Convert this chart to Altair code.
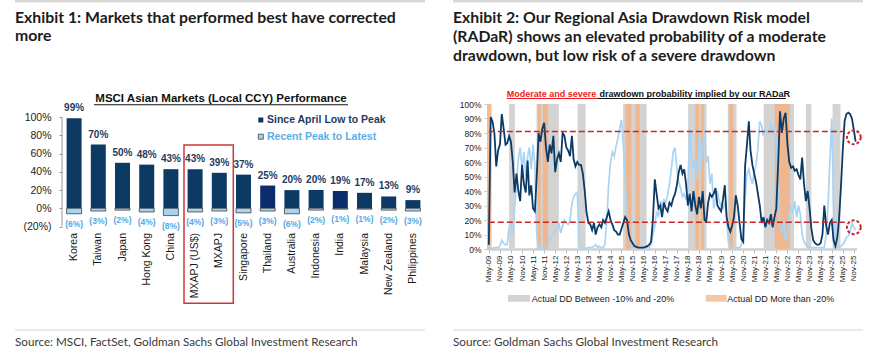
import altair as alt
import pandas as pd

# ============================ Exhibit 1 data ============================
markets = ["Korea", "Taiwan", "Japan", "Hong Kong", "China", "MXAPJ (US$)", "MXAPJ",
           "Singapore", "Thailand", "Australia", "Indonesia", "India", "Malaysia",
           "New Zealand", "Philippines"]
low_to_peak = [99, 70, 50, 48, 43, 43, 39, 37, 25, 20, 20, 19, 17, 13, 9]
peak_to_latest = [-6, -3, -2, -4, -8, -4, -3, -5, -3, -6, -2, -1, -1, -2, -3]
y1_ticks = [-20, 0, 20, 40, 60, 80, 100]
legend1_labels = ["Since April Low to Peak", "Recent Peak to Latest"]
title1 = "Exhibit 1: Markets that performed best have corrected\nmore"
subtitle1 = "MSCI Asian Markets (Local CCY) Performance"
source1 = "Source: MSCI, FactSet, Goldman Sachs Global Investment Research"

# ============================ Exhibit 2 data ============================
first_month = "2009-05-01"
moderate_prob = [
    3, 91, 88, 80, 57, 68, 72, 93, 83, 72,
    73, 78, 74, 60, 39, 52, 40, 33, 58, 45,
    39, 61, 37, 44, 28, 26, 50, 80, 74, 83,
    87, 70, 60, 72, 66, 78, 53, 62, 66, 60,
    80, 78, 70, 68, 64, 78, 62, 57, 60, 58,
    58, 52, 40, 25, 18, 17, 13, 18, 10, 15,
    17, 15, 20, 18, 22, 26, 20, 17, 13, 12,
    10, 10, 14, 18, 22, 20, 10, 6, 4, 2,
    1.5, 1, 1, 1, 1, 1.5, 2, 3, 5, 20,
    48, 38, 28, 30, 22, 32, 28, 26, 32, 30,
    35, 38, 44, 53, 58, 52, 55, 45, 30, 38,
    26, 40, 30, 24, 36, 28, 40, 20, 19, 32,
    38, 36, 38, 42, 30, 28, 26, 34, 44, 22,
    15, 12, 16, 22, 37, 30, 18, 7, 5, 57,
    72, 88, 68, 58, 52, 46, 38, 30, 18, 22,
    15, 20, 18, 24, 15, 22, 28, 60, 95, 80,
    90, 94, 72, 60, 56, 57, 54, 55, 51, 48,
    63, 45, 33, 40, 28, 14, 6, 4, 3, 3,
    4, 10, 30, 16, 10, 18, 20, 6, 2, 8,
    20, 42, 67, 88, 93, 94, 93, 90, 82, 74]
severe_prob = [
    1, 0.5, 0.5, 1, 1, 1, 2, 6, 4, 3,
    3, 15, 19, 10, 28, 45, 62, 70, 55, 67,
    50, 64, 70, 55, 72, 58, 10, 1, 0.5, 0.5,
    1, 2, 4, 6, 9, 11, 12, 14, 18, 11,
    16, 20, 18, 17, 20, 31, 36, 38, 39, 6,
    1, 1, 0.5, 0.5, 1, 1, 1, 2, 3, 1,
    2, 1, 1, 3, 20, 45, 60, 67, 64, 71,
    76, 83, 89, 72, 49, 25, 12, 4, 1, 1,
    1, 1, 1, 1, 1, 1, 1, 1, 3, 10,
    16, 26, 22, 33, 30, 34, 32, 37, 45, 55,
    67, 70, 55, 46, 42, 36, 38, 34, 42, 83,
    65, 55, 62, 48, 79, 55, 72, 82, 60, 64,
    45, 52, 28, 35, 40, 33, 30, 28, 32, 20,
    5, 1, 1, 1, 1, 1, 1, 3, 10, 35,
    52, 55, 49, 45, 53, 58, 70, 88, 85, 78,
    83, 80, 81, 86, 78, 85, 76, 40, 14, 12,
    19, 5, 12, 23, 30, 25, 33, 22, 30, 24,
    10, 5, 3, 2, 1, 1, 1, 1, 1, 1,
    1, 1, 1, 10, 30, 60, 90, 30, 1, 1,
    1, 2, 3, 5, 8, 9, 12, 18, 15, 13]
gray_start = ["2010-04-01", "2011-06-28", "2013-05-05", "2015-05-28", "2018-05-04",
              "2020-02-20", "2021-10-05", "2023-09-01", "2024-11-15"]
gray_end = ["2010-07-05", "2012-07-01", "2013-09-15", "2016-06-18", "2019-03-05",
            "2020-07-12", "2023-02-15", "2023-12-01", "2025-03-25"]
orange_start = ["2009-04-10", "2011-07-20", "2011-10-10", "2015-07-10", "2015-12-18",
                "2018-09-01", "2018-12-01", "2020-03-12", "2022-04-05"]
orange_end = ["2009-06-15", "2011-09-05", "2012-01-05", "2015-10-12", "2016-02-28",
              "2018-11-01", "2019-01-25", "2020-05-18", "2022-12-10"]
threshold_levels = [81, 18.5]
threshold_from = "2009-05-01"
threshold_to = "2025-06-05"
circle_month = "2025-11-01"
circle_levels = [77, 15]
y2_ticks = [0, 10, 20, 30, 40, 50, 60, 70, 80, 90, 100]
x2_tick_years = [2009, 2010, 2011, 2012, 2013, 2014, 2015, 2016, 2017,
                 2018, 2019, 2020, 2021, 2022, 2023, 2024, 2025]
x2_tick_months = [5, 11]
legend2_labels = ["Actual DD Between -10% and -20%", "Actual DD More than -20%"]
title2 = ("Exhibit 2: Our Regional Asia Drawdown Risk model\n"
          "(RADaR) shows an elevated probability of a moderate\n"
          "drawdown, but low risk of a severe drawdown")
subtitle2_red = "Moderate and severe"
subtitle2_black = "drawdown probability implied by our RADaR"
source2 = "Source: Goldman Sachs Global Investment Research"

# ============================ styles ============================
TITLE_FONT = "Lato"
CHART_FONT = "Liberation Sans"
NAVY = "#0d3a63"
NAVY_HI = "#0c2c6e"
LIGHT = "#a7d3f3"
highlight_markets = ["Thailand", "India"]


def text_layer(txt, x, y, **kw):
    return alt.Chart(pd.DataFrame({"t": [txt]})).mark_text(**kw).encode(
        x=alt.value(x), y=alt.value(y), text="t:N")


def box_layer(x, x2, y, y2, **kw):
    return alt.Chart(pd.DataFrame({"k": [0]})).mark_rect(**kw).encode(
        x=alt.value(x), x2=alt.value(x2), y=alt.value(y), y2=alt.value(y2))


# ============================ Exhibit 1 ============================
# plot area spans from the top of the panel's chart region (shared with Exhibit 2)
W1, H1 = 363, 122.5
df1 = pd.DataFrame({"market": markets, "up": low_to_peak, "down": peak_to_latest})
df1["up_label"] = [f"{v}%" for v in low_to_peak]
df1["down_label"] = [f"({abs(v)}%)" for v in peak_to_latest]

x1_axis = alt.Axis(title=None, labelAngle=270, domain=False, ticks=False,
                   labelPadding=6, labelFont=CHART_FONT, labelFontSize=10.5,
                   labelColor="#1a1a1a", labelOverlap=False)
x1 = alt.X("market:N", sort=markets,
           scale=alt.Scale(paddingInner=0.38, paddingOuter=0.19), axis=x1_axis)
y1_scale = alt.Scale(domain=[-20, 114.6], nice=False)
y1_axis = alt.Axis(title=None, values=y1_ticks, grid=False, domain=False,
                   labelExpr="datum.value < 0 ? '(' + abs(datum.value) + '%)' : datum.value + '%'",
                   labelFont=CHART_FONT, labelFontSize=10.5, labelColor="#222",
                   tickSize=3, tickColor="#9a9a9a", labelPadding=8, labelOverlap=False)

base1 = alt.Chart(df1)
pos_bars = base1.mark_bar().encode(
    x=x1, y=alt.Y("up:Q", scale=y1_scale, axis=y1_axis), y2=alt.datum(0),
    color=alt.condition(alt.FieldOneOfPredicate(field="market", oneOf=highlight_markets),
                        alt.value(NAVY_HI), alt.value(NAVY)))
neg_bars = base1.mark_bar(color=LIGHT, stroke="#2b2b2b", strokeWidth=0.7).encode(
    x=x1, y=alt.Y("down:Q", scale=y1_scale, axis=y1_axis), y2=alt.datum(0))
pos_labels = base1.mark_text(dy=-10, baseline="middle", font=CHART_FONT, fontSize=10,
                             fontWeight="bold", color="#1f3b5e").encode(
    x=x1, y=alt.Y("up:Q", scale=y1_scale, axis=y1_axis), text="up_label:N")
neg_labels = base1.mark_text(dy=10, baseline="middle", font=CHART_FONT, fontSize=8.5,
                             fontWeight="bold", color="#54a8e6").encode(
    x=x1, y=alt.Y("down:Q", scale=y1_scale, axis=y1_axis), text="down_label:N")
y1_line = alt.Chart(pd.DataFrame({"lo": [y1_ticks[0]], "hi": [y1_ticks[-1]]})).mark_rule(
    color="#9a9a9a", strokeWidth=1).encode(
    x=alt.value(0), y=alt.Y("lo:Q", scale=y1_scale, axis=y1_axis), y2="hi:Q")

left = alt.layer(
    box_layer(-47, 363, -104, -101.5, color="#d9d9d9"),
    text_layer(title1, -47, -81.3, align="left", baseline="alphabetic", font=TITLE_FONT,
               fontSize=15.8, fontWeight="bold", color="#1c1c1c", lineBreak="\n",
               lineHeight=18.5),
    text_layer(subtitle1, 159, -5, align="center", baseline="middle", font=CHART_FONT,
               fontSize=11.5, fontWeight="bold", color="#111"),
    box_layer(32, 286, 0.2, 1.2, color="#111"),
    y1_line, pos_bars, neg_bars, pos_labels, neg_labels,
    box_layer(196.3, 201.3, 13.5, 18.5, color=NAVY),
    box_layer(196.3, 201.3, 30.2, 35.2, color=LIGHT, stroke="#2b2b2b", strokeWidth=0.7),
    text_layer(legend1_labels[0], 205, 16, align="left", baseline="middle", font=CHART_FONT,
               fontSize=10.5, fontWeight="bold", color="#1f3b5e"),
    text_layer(legend1_labels[1], 205, 32.7, align="left", baseline="middle", font=CHART_FONT,
               fontSize=10.5, fontWeight="bold", color="#5aaee8"),
    box_layer(122, 171.3, 41, 199.3, fillOpacity=0, stroke="#c9393a", strokeWidth=1.5),
    box_layer(-47, 363, 225.5, 226.5, color="#d6d6d6"),
    text_layer(source1, -47, 238, align="left", baseline="middle", font=TITLE_FONT,
               fontSize=11.7, color="#3a3a3a"),
).properties(width=W1, height=H1)

# ============================ Exhibit 2 ============================
W2, H2 = 369.5, 145
dates = pd.date_range(first_month, periods=len(moderate_prob), freq="MS")
df2 = pd.DataFrame({"date": dates, "moderate": moderate_prob, "severe": severe_prob})
dfg = pd.DataFrame({"start": pd.to_datetime(gray_start), "end": pd.to_datetime(gray_end)})
dfo = pd.DataFrame({"start": pd.to_datetime(orange_start), "end": pd.to_datetime(orange_end)})
dft = pd.DataFrame({"level": threshold_levels,
                    "from": pd.to_datetime([threshold_from] * len(threshold_levels)),
                    "to": pd.to_datetime([threshold_to] * len(threshold_levels))})
dfc = pd.DataFrame({"date": pd.to_datetime([circle_month] * len(circle_levels)),
                    "level": circle_levels})

x_tick_values = [alt.DateTime(year=yr, month=mo, date=1)
                 for yr in x2_tick_years for mo in x2_tick_months]
x2_scale = alt.Scale(domain=[alt.DateTime(year=2009, month=4, date=1),
                             alt.DateTime(year=2025, month=12, date=15)])
x2_axis = alt.Axis(title=None, values=x_tick_values, format="%b-%y", labelAngle=270,
                   labelFont=CHART_FONT, labelFontSize=8, labelColor="#1a1a1a",
                   tickSize=4, tickColor="#bdbdbd", domainColor="#d0d0d0", domainWidth=2.5,
                   labelPadding=2, grid=False, labelOverlap=False)
y2_scale = alt.Scale(domain=[0, 100], nice=False)
y2_axis = alt.Axis(title=None, values=y2_ticks, labelExpr="datum.value + '%'", grid=False,
                   labelFont=CHART_FONT, labelFontSize=8.5, labelColor="#222",
                   tickSize=3, tickColor="#c8c8c8", domainColor="#d0d0d0", labelPadding=3,
                   labelOverlap=False)

xd = dict(scale=x2_scale, axis=x2_axis)
yd = dict(scale=y2_scale, axis=y2_axis)
gray_bands = alt.Chart(dfg).mark_rect(color="#d3d3d3").encode(
    x=alt.X("start:T", **xd), x2="end:T", y=alt.Y(datum=100, **yd), y2=alt.datum(0))
orange_bands = alt.Chart(dfo).mark_rect(color="#f2b182", opacity=0.85).encode(
    x=alt.X("start:T", **xd), x2="end:T", y=alt.Y(datum=100, **yd), y2=alt.datum(0))
severe_line = alt.Chart(df2).mark_line(color="#a9d4f3", strokeWidth=1.7).encode(
    x=alt.X("date:T", **xd), y=alt.Y("severe:Q", **yd))
moderate_line = alt.Chart(df2).mark_line(color="#0b3a66", strokeWidth=1.8).encode(
    x=alt.X("date:T", **xd), y=alt.Y("moderate:Q", **yd))
thresholds = alt.Chart(dft).mark_rule(color="#c62828", strokeWidth=1.6,
                                      strokeDash=[6, 3]).encode(
    x=alt.X("from:T", **xd), x2="to:T", y=alt.Y("level:Q", **yd))
circles = alt.Chart(dfc).mark_point(shape="circle", size=190, filled=False, color="#c62828",
                                    strokeWidth=2, strokeDash=[3, 2], opacity=1).encode(
    x=alt.X("date:T", **xd), y=alt.Y("level:Q", **yd))

right = alt.layer(
    box_layer(-34, 376, -104, -101.5, color="#d9d9d9"),
    text_layer(title2, -34, -81.3, align="left", baseline="alphabetic", font=TITLE_FONT,
               fontSize=15.8, fontWeight="bold", color="#1c1c1c", lineBreak="\n",
               lineHeight=19.2),
    text_layer(subtitle2_red, 19.7, -9.7, align="left", baseline="middle", font=CHART_FONT,
               fontSize=9, fontWeight="bold", color="#ee1c1c"),
    text_layer(subtitle2_black, 112.5, -9.7, align="left", baseline="middle", font=CHART_FONT,
               fontSize=9, fontWeight="bold", color="#111"),
    box_layer(19.7, 110.5, -6.1, -5.1, color="#ee1c1c"),
    box_layer(110.5, 299, -6.1, -5.1, color="#111"),
    gray_bands, orange_bands, severe_line, moderate_line, thresholds, circles,
    box_layer(21, 43, 191, 197.7, color="#d3d3d3"),
    text_layer(legend2_labels[0], 44.7, 194.5, align="left", baseline="middle",
               font=CHART_FONT, fontSize=9, color="#1a1a1a"),
    box_layer(218.7, 239.7, 191, 197.7, color="#f6c6a2"),
    text_layer(legend2_labels[1], 240.3, 194.5, align="left", baseline="middle",
               font=CHART_FONT, fontSize=9, color="#1a1a1a"),
    box_layer(-34, 376, 225.5, 226.5, color="#d6d6d6"),
    text_layer(source2, -34, 238, align="left", baseline="middle", font=TITLE_FONT,
               fontSize=11.7, color="#3a3a3a"),
).properties(width=W2, height=H2)

chart = alt.hconcat(left, right, spacing=28).properties(
    padding={"left": 15, "top": 0, "right": 4, "bottom": 2},
    background="white",
).configure_view(stroke=None).configure_axis(labelOverlap=False)

chart.save("out.html", embed_options={"renderer": "svg", "actions": False})
